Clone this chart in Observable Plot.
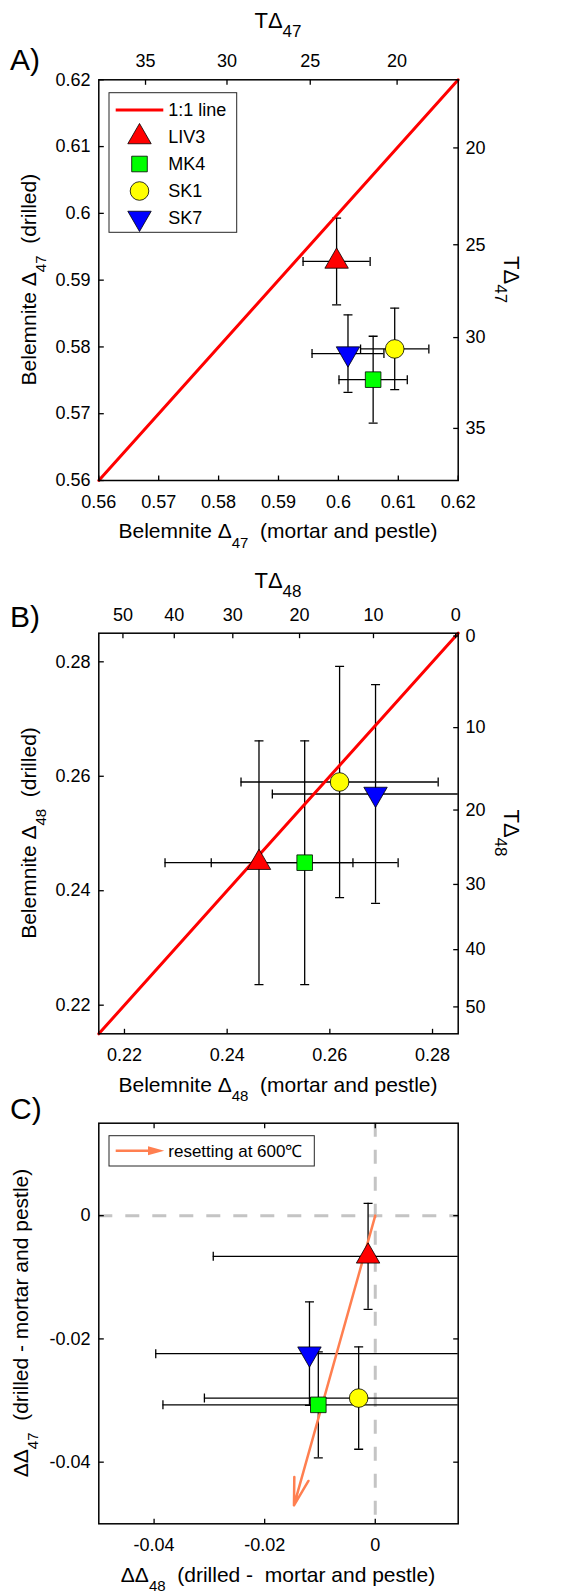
<!DOCTYPE html>
<html>
<head>
<meta charset="utf-8">
<script src="https://cdn.jsdelivr.net/npm/d3@7"></script>
<script src="https://cdn.jsdelivr.net/npm/@observablehq/plot@0.6"></script>
<style>
  body { margin: 0; background: #fff; }
  #fig { position: relative; width: 584px; height: 1592px; background: #fff; }
  #fig svg { position: absolute; left: 0; top: 0; }
</style>
</head>
<body>
<div id="fig"></div>
<script>
// ---------------- DATA ----------------
const samples = ["LIV3", "MK4", "SK1", "SK7"];

// Panel A: Δ47 mortar and pestle (x) vs drilled (y), with 1-sigma errors
const d47MP     = [0.5997, 0.6058, 0.6094, 0.6016];
const d47MPerr  = [0.0056, 0.0057, 0.0057, 0.0060];
const d47Dr     = [0.5928, 0.5751, 0.5797, 0.5790];
const d47DrErr  = [0.0065, 0.0065, 0.0061, 0.0058];

// Panel B: Δ48 mortar and pestle (x) vs drilled (y)
const d48MP     = [0.2462, 0.2551, 0.2619, 0.2689];
const d48MPerr  = [0.0183, 0.0182, 0.0192, 0.0201];
const d48Dr     = [0.2449, 0.2449, 0.2590, 0.2569];
const d48DrErr  = [0.0213, 0.0213, 0.0202, 0.0191];

// Panel C: differences (drilled - mortar and pestle)
const dd48      = [-0.0013, -0.0103, -0.0030, -0.0119];
const dd48err   = [0.0280, 0.0281, 0.0279, 0.0278];
const dd47      = [-0.0066, -0.0307, -0.0296, -0.0224];
const dd47err   = [0.0086, 0.0086, 0.0083, 0.0084];

// resetting at 600 °C vector (start, end) in ΔΔ48, ΔΔ47
const resetStart = [0, 0];
const resetEnd   = [-0.0147, -0.0470];

// Axis domains
const domA = [0.56, 0.62];
const domB = [0.215, 0.285];
const domC = [-0.05, 0.015];

// Tick labels
const ticksA = ["0.56", "0.57", "0.58", "0.59", "0.6", "0.61", "0.62"];
const ticksB = ["0.22", "0.24", "0.26", "0.28"];
const ticksCx = ["-0.04", "-0.02", "0"];
const ticksCy = ["-0.04", "-0.02", "0"];

// Temperature (secondary) axes: label and the Δ value at which it sits
const t47Labels = [35, 30, 25, 20];
const t47AtD47  = [0.5678, 0.5814, 0.5953, 0.6098];
const t48Labels = [50, 40, 30, 20, 10, 0];
const t48AtD48  = [0.2197, 0.2297, 0.2411, 0.2541, 0.2685, 0.2845];

// ---------------- STYLE / LAYOUT ----------------
const FONT = '"Liberation Sans", Arial, Helvetica, sans-serif';
const W = 584, H = 1592;
const FL = 98.3, FR = 457.7;
const ORANGE = "#ff7f50";

const triDown = {
  draw(ctx, size) {
    const y = -Math.sqrt(size / (3 * Math.sqrt(3)));
    ctx.moveTo(0, -2 * y);
    ctx.lineTo(-Math.sqrt(3) * y, y);
    ctx.lineTo(Math.sqrt(3) * y, y);
    ctx.closePath();
  }
};
const markerStyle = {
  LIV3: {symbol: "triangle", r: 8.7, fill: "#ff0000"},
  MK4:  {symbol: "square",   r: 8.8, fill: "#00ff00"},
  SK1:  {symbol: "circle",   r: 9.3, fill: "#ffff00"},
  SK7:  {symbol: triDown,    r: 8.7, fill: "#0000ff"}
};

const TL = 5;
const tickUp    = {draw(c) { c.moveTo(0, 0); c.lineTo(0, -TL); }};
const tickDown  = {draw(c) { c.moveTo(0, 0); c.lineTo(0, TL); }};
const tickRight = {draw(c) { c.moveTo(0, 0); c.lineTo(TL, 0); }};
const tickLeft  = {draw(c) { c.moveTo(0, 0); c.lineTo(-TL, 0); }};
const CAP = 4.5;
const capH = {draw(c) { c.moveTo(-CAP, 0); c.lineTo(CAP, 0); }};
const capV = {draw(c) { c.moveTo(0, -CAP); c.lineTo(0, CAP); }};

function errorMarks(X, XE, Y, YE) {
  const rows = X.map((x, i) => ({x, xe: XE[i], y: Y[i], ye: YE[i]}));
  const s = {stroke: "black", strokeWidth: 1.3, clip: true};
  return [
    Plot.ruleY(rows, {y: "y", x1: d => d.x - d.xe, x2: d => d.x + d.xe, ...s}),
    Plot.ruleX(rows, {x: "x", y1: d => d.y - d.ye, y2: d => d.y + d.ye, ...s}),
    Plot.dot(rows, {x: d => d.x - d.xe, y: "y", symbol: capV, fill: "none", ...s}),
    Plot.dot(rows, {x: d => d.x + d.xe, y: "y", symbol: capV, fill: "none", ...s}),
    Plot.dot(rows, {x: "x", y: d => d.y - d.ye, symbol: capH, fill: "none", ...s}),
    Plot.dot(rows, {x: "x", y: d => d.y + d.ye, symbol: capH, fill: "none", ...s})
  ];
}

function markerMarks(X, Y) {
  return samples.map((s, i) => {
    const m = markerStyle[s];
    return Plot.dot([{x: X[i], y: Y[i]}], {
      x: "x", y: "y", symbol: m.symbol, r: m.r, fill: m.fill,
      stroke: "black", strokeWidth: 0.8
    });
  });
}

const tk = {stroke: "black", fill: "none", strokeWidth: 1.3};
function ticksBottom(vals) { return Plot.dot(vals, {x: d => d, frameAnchor: "bottom", symbol: tickUp, ...tk}); }
function ticksTop(vals) { return Plot.dot(vals, {x: d => d, frameAnchor: "top", symbol: tickDown, ...tk}); }
function ticksLeft(vals) { return Plot.dot(vals, {y: d => d, frameAnchor: "left", symbol: tickRight, ...tk}); }
function ticksRight(vals) { return Plot.dot(vals, {y: d => d, frameAnchor: "right", symbol: tickLeft, ...tk}); }

const lab = {fontSize: 18, fill: "black", fontFamily: FONT};
function labelsBottom(labels) {
  return Plot.text(labels, {x: d => +d, text: d => d, frameAnchor: "bottom", lineAnchor: "top", dy: 14.3, ...lab});
}
function labelsLeft(labels) {
  return Plot.text(labels, {y: d => +d, text: d => d, frameAnchor: "left", textAnchor: "end", lineAnchor: "middle", dx: -8.3, ...lab});
}
function labelsTop(vals, labels) {
  return Plot.text(vals, {x: d => d, text: (d, i) => String(labels[i]), frameAnchor: "top", lineAnchor: "bottom", dy: -12.6, ...lab});
}
function labelsRight(vals, labels) {
  return Plot.text(vals, {y: d => d, text: (d, i) => String(labels[i]), frameAnchor: "right", textAnchor: "start", lineAnchor: "middle", dx: 7.3, ...lab});
}

function makePanel({top, bottom, xDomain, yDomain, marks}) {
  return Plot.plot({
    width: W, height: H,
    marginLeft: FL, marginRight: W - FR, marginTop: top, marginBottom: H - bottom,
    x: {domain: xDomain, axis: null},
    y: {domain: yDomain, axis: null},
    style: {background: "transparent", overflow: "visible", fontFamily: FONT, fontSize: "18px", color: "black"},
    marks
  });
}

function richText(svg, {x, y, rotate = 0, size, subSize, shift = 9, parts, anchor = "middle"}) {
  const t = d3.select(svg).append("text")
    .attr("transform", `translate(${x},${y}) rotate(${rotate})`)
    .attr("text-anchor", anchor)
    .attr("font-family", FONT)
    .attr("font-size", size)
    .attr("fill", "black")
    .style("white-space", "pre");
  let cur = 0;
  for (const p of parts) {
    const sp = t.append("tspan").text(p.t);
    const target = p.sub ? shift : 0;
    if (target !== cur) sp.attr("dy", target - cur);
    cur = target;
    if (p.sub) sp.attr("font-size", subSize);
  }
  return t;
}

const fig = document.getElementById("fig");

// ---------------- PANEL A ----------------
const FA = {top: 79.3, bottom: 480};
const svgA = makePanel({
  top: FA.top, bottom: FA.bottom, xDomain: domA, yDomain: domA,
  marks: [
    ...errorMarks(d47MP, d47MPerr, d47Dr, d47DrErr),
    Plot.line(domA.map(v => [v, v]), {stroke: "#ff0000", strokeWidth: 3}),
    ...markerMarks(d47MP, d47Dr),
    Plot.frame({stroke: "black", strokeWidth: 1.5}),
    ticksBottom(ticksA.map(Number)), ticksLeft(ticksA.map(Number)),
    ticksTop(t47AtD47), ticksRight(t47AtD47),
    labelsBottom(ticksA), labelsLeft(ticksA),
    labelsTop(t47AtD47, t47Labels), labelsRight(t47AtD47, t47Labels)
  ]
});
fig.appendChild(svgA);

// ---------------- PANEL B ----------------
const FB = {top: 632.7, bottom: 1033.3};
const svgB = makePanel({
  top: FB.top, bottom: FB.bottom, xDomain: domB, yDomain: domB,
  marks: [
    ...errorMarks(d48MP, d48MPerr, d48Dr, d48DrErr),
    Plot.line(domB.map(v => [v, v]), {stroke: "#ff0000", strokeWidth: 3}),
    ...markerMarks(d48MP, d48Dr),
    Plot.frame({stroke: "black", strokeWidth: 1.5}),
    ticksBottom(ticksB.map(Number)), ticksLeft(ticksB.map(Number)),
    ticksTop(t48AtD48), ticksRight(t48AtD48),
    labelsBottom(ticksB), labelsLeft(ticksB),
    labelsTop(t48AtD48, t48Labels), labelsRight(t48AtD48, t48Labels)
  ]
});
fig.appendChild(svgB);

// ---------------- PANEL C ----------------
const FC = {top: 1122.7, bottom: 1523.3};
const svgC = makePanel({
  top: FC.top, bottom: FC.bottom, xDomain: domC, yDomain: domC,
  marks: [
    Plot.ruleX([0], {stroke: "#c4c4c4", strokeWidth: 3, strokeDasharray: "14,13"}),
    Plot.ruleY([0], {stroke: "#c4c4c4", strokeWidth: 3, strokeDasharray: "14,13"}),
    ...errorMarks(dd48, dd48err, dd47, dd47err),
    Plot.arrow([{x1: resetStart[0], y1: resetStart[1], x2: resetEnd[0], y2: resetEnd[1]}],
      {x1: "x1", y1: "y1", x2: "x2", y2: "y2", stroke: ORANGE, strokeWidth: 2.5, headAngle: 30, headLength: 17}),
    ...markerMarks(dd48, dd47),
    Plot.frame({stroke: "black", strokeWidth: 1.5}),
    ticksBottom(ticksCx.map(Number)), ticksTop(ticksCx.map(Number)),
    ticksLeft(ticksCy.map(Number)), ticksRight(ticksCy.map(Number)),
    labelsBottom(ticksCx), labelsLeft(ticksCy)
  ]
});
fig.appendChild(svgC);

// ---------------- TEXT: titles & panel labels ----------------
const cx = (FL + FR) / 2;
// Panel A
richText(svgA, {x: 10, y: 70, size: 30, parts: [{t: "A)"}], anchor: "start"});
richText(svgA, {x: cx, y: 28.3, size: 22, subSize: 17, shift: 9, parts: [{t: "TΔ"}, {t: "47", sub: true}]});
richText(svgA, {x: 504, y: (FA.top + FA.bottom) / 2, rotate: 90, size: 22, subSize: 17, shift: 9, parts: [{t: "TΔ"}, {t: "47", sub: true}]});
richText(svgA, {x: cx, y: FA.bottom + 58.3, size: 21, subSize: 15, shift: 9.5, parts: [{t: "Belemnite Δ"}, {t: "47", sub: true}, {t: "  (mortar and pestle)"}]});
richText(svgA, {x: 36, y: (FA.top + FA.bottom) / 2, rotate: -90, size: 21, subSize: 15, shift: 9.5, parts: [{t: "Belemnite Δ"}, {t: "47", sub: true}, {t: "  (drilled)"}]});
// Panel B
richText(svgB, {x: 10, y: 627, size: 30, parts: [{t: "B)"}], anchor: "start"});
richText(svgB, {x: cx, y: 588.3, size: 22, subSize: 17, shift: 9, parts: [{t: "TΔ"}, {t: "48", sub: true}]});
richText(svgB, {x: 504, y: (FB.top + FB.bottom) / 2, rotate: 90, size: 22, subSize: 17, shift: 9, parts: [{t: "TΔ"}, {t: "48", sub: true}]});
richText(svgB, {x: cx, y: FB.bottom + 58.3, size: 21, subSize: 15, shift: 9.5, parts: [{t: "Belemnite Δ"}, {t: "48", sub: true}, {t: "  (mortar and pestle)"}]});
richText(svgB, {x: 36, y: (FB.top + FB.bottom) / 2, rotate: -90, size: 21, subSize: 15, shift: 9.5, parts: [{t: "Belemnite Δ"}, {t: "48", sub: true}, {t: "  (drilled)"}]});
// Panel C
richText(svgC, {x: 10, y: 1119, size: 30, parts: [{t: "C)"}], anchor: "start"});
richText(svgC, {x: cx, y: FC.bottom + 58.3, size: 21, subSize: 15, shift: 9.5, parts: [{t: "ΔΔ"}, {t: "48", sub: true}, {t: "  (drilled -  mortar and pestle)"}]});
richText(svgC, {x: 28, y: (FC.top + FC.bottom) / 2, rotate: -90, size: 21, subSize: 15, shift: 9.5, parts: [{t: "ΔΔ"}, {t: "47", sub: true}, {t: "  (drilled - mortar and pestle)"}]});

// ---------------- LEGENDS ----------------
// Panel A legend
{
  const g = d3.select(svgA).append("g").attr("text-anchor", "start");
  const bx = FL + 10.7, by = FA.top + 13.4;
  g.append("rect").attr("x", bx).attr("y", by).attr("width", 127.7).attr("height", 139.6)
    .attr("fill", "white").attr("stroke", "#262626").attr("stroke-width", 1);
  const rowY = i => by + 17.3 + i * 27;
  g.append("line").attr("x1", bx + 6.7).attr("x2", bx + 54.3).attr("y1", rowY(0)).attr("y2", rowY(0))
    .attr("stroke", "#ff0000").attr("stroke-width", 3);
  const labels = ["1:1 line", ...samples];
  labels.forEach((s, i) => {
    g.append("text").attr("x", bx + 59.3).attr("y", rowY(i)).attr("dy", "0.35em")
      .attr("text-anchor", "start")
      .attr("font-family", FONT).attr("font-size", 18).attr("fill", "black").text(s);
  });
  samples.forEach((s, i) => {
    const m = markerStyle[s];
    const type = m.symbol === "triangle" ? d3.symbolTriangle : m.symbol === "square" ? d3.symbolSquare :
      m.symbol === "circle" ? d3.symbolCircle : m.symbol;
    g.append("path").attr("d", d3.symbol(type, Math.PI * m.r * m.r)())
      .attr("transform", `translate(${bx + 30.5},${rowY(i + 1)})`)
      .attr("fill", m.fill).attr("stroke", "black").attr("stroke-width", 0.8);
  });
}
// Panel C legend
{
  const g = d3.select(svgC).append("g").attr("text-anchor", "start");
  const bx = FL + 10.7, by = FC.top + 13;
  g.append("rect").attr("x", bx).attr("y", by).attr("width", 205.3).attr("height", 30.3)
    .attr("fill", "white").attr("stroke", "#262626").attr("stroke-width", 1);
  const ay = by + 15;
  g.append("line").attr("x1", bx + 6.7).attr("x2", bx + 41).attr("y1", ay).attr("y2", ay)
    .attr("stroke", ORANGE).attr("stroke-width", 2.5);
  g.append("path").attr("d", `M${bx + 39},${ay - 4.5}L${bx + 55.3},${ay}L${bx + 39},${ay + 4.5}Z`)
    .attr("fill", ORANGE);
  g.append("text").attr("x", bx + 59.3).attr("y", ay).attr("dy", "0.35em")
    .attr("text-anchor", "start")
    .attr("font-family", FONT).attr("font-size", 17).attr("fill", "black").text("resetting at 600℃");
}
</script>
</body>
</html>
